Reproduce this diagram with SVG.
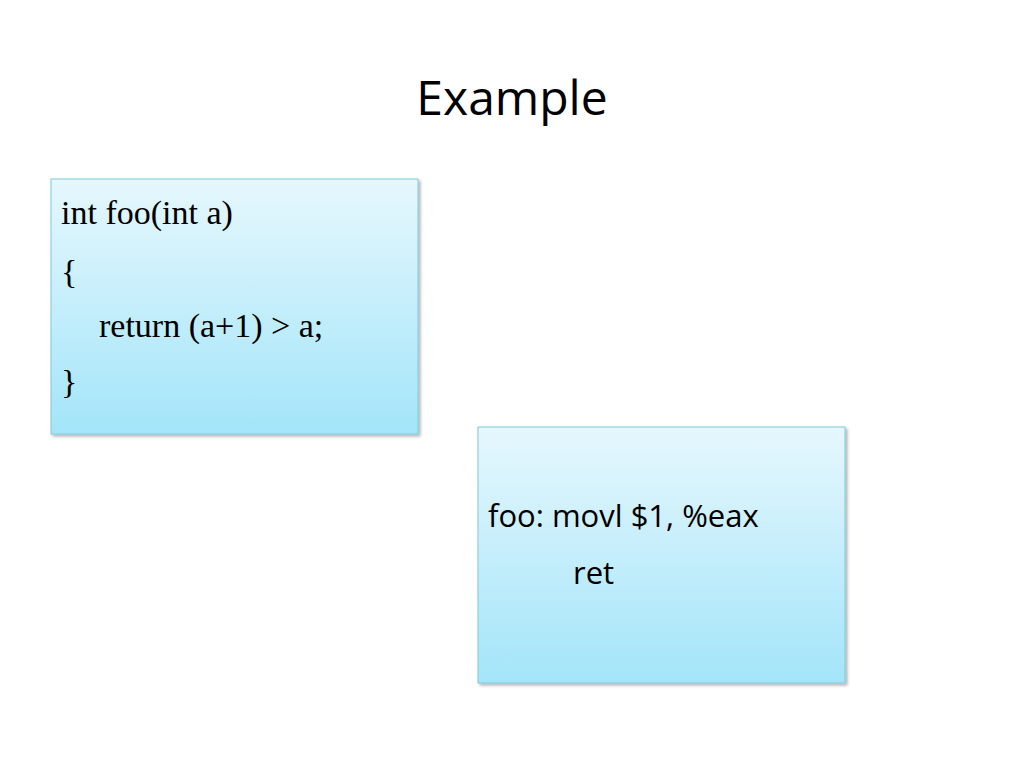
<svg xmlns="http://www.w3.org/2000/svg" width="1024" height="768" viewBox="0 0 1024 768">
<defs>
<linearGradient id="g" x1="0" y1="0" x2="0" y2="1"><stop offset="0" stop-color="#e6f7fd"/><stop offset="1" stop-color="#a3e5f9"/></linearGradient>
<filter id="sh" x="-5%" y="-5%" width="115%" height="115%"><feDropShadow dx="2" dy="2" stdDeviation="1.5" flood-color="#000" flood-opacity="0.3"/></filter>
<style>.box{fill:url(#g);stroke:#7fc9db;stroke-width:1;filter:url(#sh)}.c{font-family:"Liberation Serif",serif;font-size:34px;fill:#000}.a{font-family:"Open Sans","Liberation Sans",sans-serif;font-size:31px;fill:#000}</style>
</defs>
<rect width="1024" height="768" fill="#fff"/>
<text x="512" y="115" text-anchor="middle" font-family="Open Sans, Liberation Sans, sans-serif" font-size="48" fill="#000">Example</text>
<g id="c-code">
<rect class="box" x="51" y="179" width="367" height="255"/>
<text class="c" x="61" y="224">int foo(int a)</text>
<text class="c" x="61" y="283">{</text>
<text class="c" x="99" y="337">return (a+1) &gt; a;</text>
<text class="c" x="61" y="393">}</text>
</g>
<g id="asm">
<rect class="box" x="478" y="427" width="367" height="256"/>
<text class="a" x="488" y="527">foo: movl $1, %eax</text>
<text class="a" x="573" y="584">ret</text>
</g>
<g id="connectors"/>
</svg>
